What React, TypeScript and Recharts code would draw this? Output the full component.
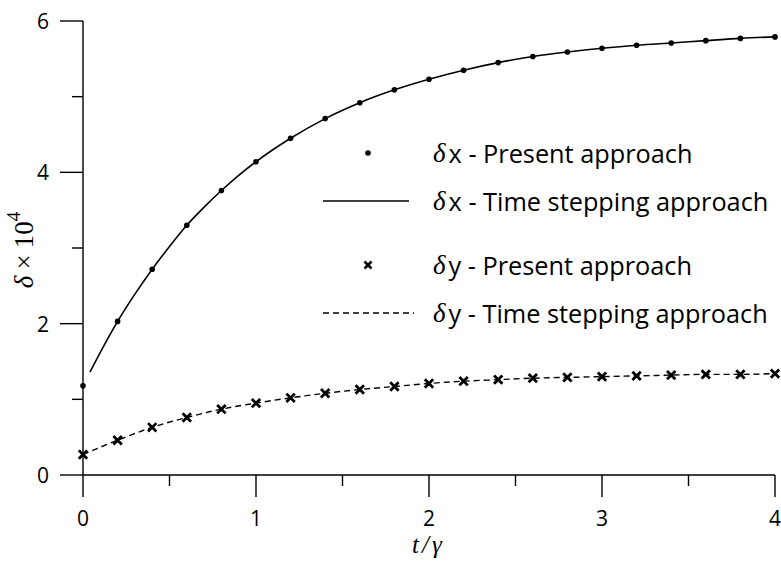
import { ComposedChart, Line, Scatter, XAxis, YAxis } from "recharts";

// sample times of the "present approach" markers
const T_POINTS = [0, 0.2, 0.4, 0.6, 0.8, 1.0, 1.2, 1.4, 1.6, 1.8, 2.0, 2.2, 2.4, 2.6, 2.8, 3.0, 3.2, 3.4, 3.6, 3.8, 4.0];
const DX_PRESENT = [1.18, 2.03, 2.72, 3.3, 3.76, 4.14, 4.45, 4.71, 4.92, 5.09, 5.23, 5.35, 5.45, 5.53, 5.59, 5.64, 5.68, 5.71, 5.74, 5.77, 5.79];
const DY_PRESENT = [0.27, 0.46, 0.63, 0.76, 0.87, 0.95, 1.02, 1.08, 1.13, 1.17, 1.21, 1.24, 1.26, 1.28, 1.29, 1.3, 1.31, 1.32, 1.33, 1.33, 1.34];

// time stepping curves
const T_STEP_X = [0.04, 0.1, 0.2, 0.3, 0.4, 0.5, 0.6, 0.7, 0.8, 0.9, 1.0, 1.2, 1.4, 1.6, 1.8, 2.0, 2.2, 2.4, 2.6, 2.8, 3.0, 3.2, 3.4, 3.6, 3.8, 4.0];
const DX_STEPPING = [1.36, 1.62, 2.03, 2.39, 2.72, 3.02, 3.3, 3.54, 3.76, 3.96, 4.14, 4.45, 4.71, 4.92, 5.09, 5.23, 5.35, 5.45, 5.53, 5.59, 5.64, 5.68, 5.71, 5.74, 5.77, 5.79];
const T_STEP_Y = [0, 0.2, 0.4, 0.6, 0.8, 1.0, 1.2, 1.4, 1.6, 1.8, 2.0, 2.2, 2.4, 2.6, 2.8, 3.0, 3.2, 3.4, 3.6, 3.8, 4.0];
const DY_STEPPING = [0.27, 0.46, 0.63, 0.76, 0.87, 0.95, 1.02, 1.08, 1.13, 1.17, 1.21, 1.24, 1.26, 1.28, 1.29, 1.3, 1.31, 1.32, 1.33, 1.33, 1.34];

const X_TICKS = [0, 0.5, 1, 1.5, 2, 2.5, 3, 3.5, 4];
const Y_TICKS = [0, 1, 2, 3, 4, 5, 6];

const LEGEND_LABELS = ["x - Present approach", "x - Time stepping approach", "y - Present approach", "y - Time stepping approach"];

const SANS = "'Open Sans', 'DejaVu Sans', sans-serif";
const SERIF = "'Liberation Serif', 'DejaVu Serif', serif";

const dxPoints = T_POINTS.map((t, i) => ({ t, v: DX_PRESENT[i] }));
const dyPoints = T_POINTS.map((t, i) => ({ t, v: DY_PRESENT[i] }));
const dxLine = T_STEP_X.map((t, i) => ({ t, v: DX_STEPPING[i] }));
const dyLine = T_STEP_Y.map((t, i) => ({ t, v: DY_STEPPING[i] }));

function XTick({ x, y, payload }: any) {
  const major = Number.isInteger(payload.value);
  return (
    <g>
      <line x1={x} x2={x} y1={y} y2={y + (major ? 22 : 11)} stroke="#000" strokeWidth={1.4} />
      {major && (
        <text x={x} y={y + 43} textAnchor="middle" dominantBaseline="central" fontFamily={SANS} fontSize={21} fill="#000">
          {payload.value}
        </text>
      )}
    </g>
  );
}

function YTick({ x, y, payload }: any) {
  const major = payload.value % 2 === 0;
  return (
    <g>
      <line x1={x - (major ? 23 : 11)} x2={x} y1={y} y2={y} stroke="#000" strokeWidth={1.4} />
      {major && (
        <text x={x - 40} y={y} textAnchor="middle" dominantBaseline="central" fontFamily={SANS} fontSize={21} fill="#000">
          {payload.value}
        </text>
      )}
    </g>
  );
}

const Dot = ({ cx, cy }: any) => <circle cx={cx} cy={cy} r={2.8} fill="#000" />;

const Cross = ({ cx, cy, s = 4.2, w = 2.8 }: any) => (
  <path d={`M${cx - s},${cy - s}L${cx + s},${cy + s}M${cx - s},${cy + s}L${cx + s},${cy - s}`} stroke="#000" strokeWidth={w} />
);

function LegendBox() {
  const rows = [33, 81, 145, 193];
  return (
    <svg width={470} height={220} style={{ position: "absolute", left: 310, top: 120 }}>
      <circle cx={58} cy={rows[0]} r={2.8} fill="#000" />
      <line x1={13} x2={99} y1={rows[1]} y2={rows[1]} stroke="#000" strokeWidth={1.5} />
      <Cross cx={58} cy={rows[2]} s={3.5} w={2.6} />
      <line x1={13} x2={104} y1={rows[3]} y2={rows[3]} stroke="#000" strokeWidth={1.3} strokeDasharray="6 4" />
      {LEGEND_LABELS.map((label, i) => (
        <text key={label} x={123} y={rows[i]} dominantBaseline="central" fontSize={25.3} fill="#000" fontFamily={SANS}>
          <tspan fontFamily={SERIF} fontStyle="italic" fontSize={27}>δ</tspan>
          <tspan dx={3}>{label}</tspan>
        </text>
      ))}
    </svg>
  );
}

export default function App() {
  return (
    <div style={{ position: "absolute", left: 0, top: 0, width: 781, height: 562, background: "#fff" }}>
      <ComposedChart width={781} height={562} margin={{ top: 21, right: 6, bottom: 86, left: 82 }}>
        <XAxis
          dataKey="t"
          type="number"
          domain={[0, 4]}
          ticks={X_TICKS}
          height={1}
          tickSize={0}
          tickMargin={0}
          tickLine={false}
          tick={<XTick />}
          axisLine={{ stroke: "#000", strokeWidth: 1.4 }}
          allowDuplicatedCategory={false}
          label={(props: any) => {
            const vb = props.viewBox;
            return (
              <text x={vb.x + vb.width / 2 - 2} y={vb.y + 69} textAnchor="middle" dominantBaseline="central" fontFamily={SERIF} fontStyle="italic" fontSize={25}>
                <tspan>t</tspan>
                <tspan dx={3}>/</tspan>
                <tspan dx={3}>γ</tspan>
              </text>
            );
          }}
        />
        <YAxis
          type="number"
          domain={[0, 6]}
          ticks={Y_TICKS}
          width={1}
          tickSize={0}
          tickMargin={0}
          tickLine={false}
          tick={<YTick />}
          axisLine={{ stroke: "#000", strokeWidth: 1.4 }}
          label={(props: any) => {
            const vb = props.viewBox;
            const cx = 24;
            const cy = vb.y + vb.height / 2 + 2;
            return (
              <text x={cx} y={cy} textAnchor="middle" dominantBaseline="central" transform={`rotate(-90 ${cx} ${cy})`} fontFamily={SERIF} fontSize={27}>
                <tspan fontStyle="italic">δ</tspan>
                <tspan dx={6}>×</tspan>
                <tspan dx={6}>10</tspan>
                <tspan dy={-11} fontSize={19}>4</tspan>
              </text>
            );
          }}
        />
        <Line data={dxLine} dataKey="v" type="monotone" stroke="#000" strokeWidth={1.6} dot={false} isAnimationActive={false} />
        <Line data={dyLine} dataKey="v" type="monotone" stroke="#000" strokeWidth={1.4} strokeDasharray="6 4" dot={false} isAnimationActive={false} />
        <Scatter data={dxPoints} dataKey="v" shape={<Dot />} isAnimationActive={false} />
        <Scatter data={dyPoints} dataKey="v" shape={<Cross />} isAnimationActive={false} />
      </ComposedChart>
      <LegendBox />
    </div>
  );
}
